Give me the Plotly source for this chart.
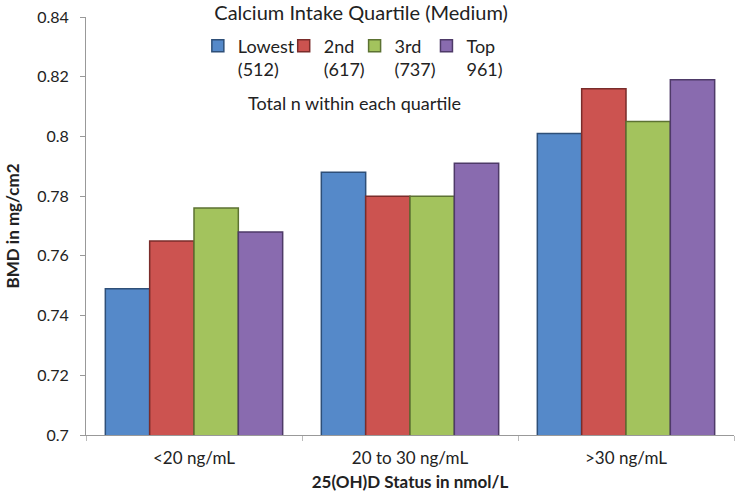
import plotly.graph_objects as go

categories = ["<20 ng/mL", "20 to 30 ng/mL", ">30 ng/mL"]
series_names = ["Lowest<br>(512)", "2nd<br>(617)", "3rd<br>(737)", "Top<br>961)"]
lowest = [0.749, 0.788, 0.801]
second = [0.765, 0.780, 0.816]
third = [0.776, 0.780, 0.805]
top = [0.768, 0.791, 0.819]
colors = ["#5589C9", "#CC5350", "#A3C35D", "#896BAF"]
edges = ["#2E4F78", "#7A2C2A", "#5C7232", "#4E3A68"]

legend_ids = ["legend", "legend2", "legend3", "legend4"]
legend_x = [0.1726, 0.3051, 0.4145, 0.5254]

fig = go.Figure()
for name, vals, c, e, lg in zip(series_names, [lowest, second, third, top], colors, edges, legend_ids):
    fig.add_trace(go.Bar(x=categories, y=vals, name=name, legend=lg,
                         marker=dict(color=c, line=dict(color=e, width=1.5))))

font_family = "Lato, 'Open Sans', sans-serif"
legend_common = dict(y=0.975, xanchor="left", yanchor="top", valign="top",
                     font=dict(size=18, family=font_family, color="#222"),
                     bgcolor="rgba(0,0,0,0)", itemwidth=30)

fig.update_layout(
    width=737, height=497,
    margin=dict(l=86, r=3, t=17, b=62),
    paper_bgcolor="white", plot_bgcolor="white",
    barmode="group", bargap=0.179, bargroupgap=0,
    font=dict(family=font_family, size=17, color="#222"),
    title=dict(text="Calcium Intake Quartile (Medium)", x=0.49, y=0.974,
               xanchor="center", yanchor="middle",
               font=dict(size=20, family=font_family, color="#222")),
    showlegend=True,
    annotations=[dict(text="Total n within each quartile", x=0.414, y=0.794,
                      xref="paper", yref="paper", showarrow=False,
                      xanchor="center", yanchor="middle",
                      font=dict(size=18, family=font_family, color="#222"))],
)
for lg, lx in zip(legend_ids, legend_x):
    fig.update_layout({lg: dict(x=lx, **legend_common)})

fig.update_yaxes(range=[0.7, 0.84], dtick=0.02, tick0=0.7, showgrid=False,
                 showline=True, linecolor="#999", linewidth=1,
                 ticks="outside", ticklen=5, tickcolor="#999",
                 tickfont=dict(size=16), automargin=False, ticklabelstandoff=8,
                 title=dict(text="<b>BMD in mg/cm2</b>", font=dict(size=17), standoff=13))
fig.update_xaxes(showgrid=False, showline=True, linecolor="#999", linewidth=1,
                 ticks="outside", ticklen=5, tickcolor="#bbb", tickson="boundaries",
                 tickfont=dict(size=17), automargin=False, ticklabelstandoff=8,
                 title=dict(text="<b>25(OH)D Status in nmol/L</b>", font=dict(size=17), standoff=8))

fig.write_html("out.html", config={"displayModeBar": False},
               post_script="document.body.style.margin='0';")
